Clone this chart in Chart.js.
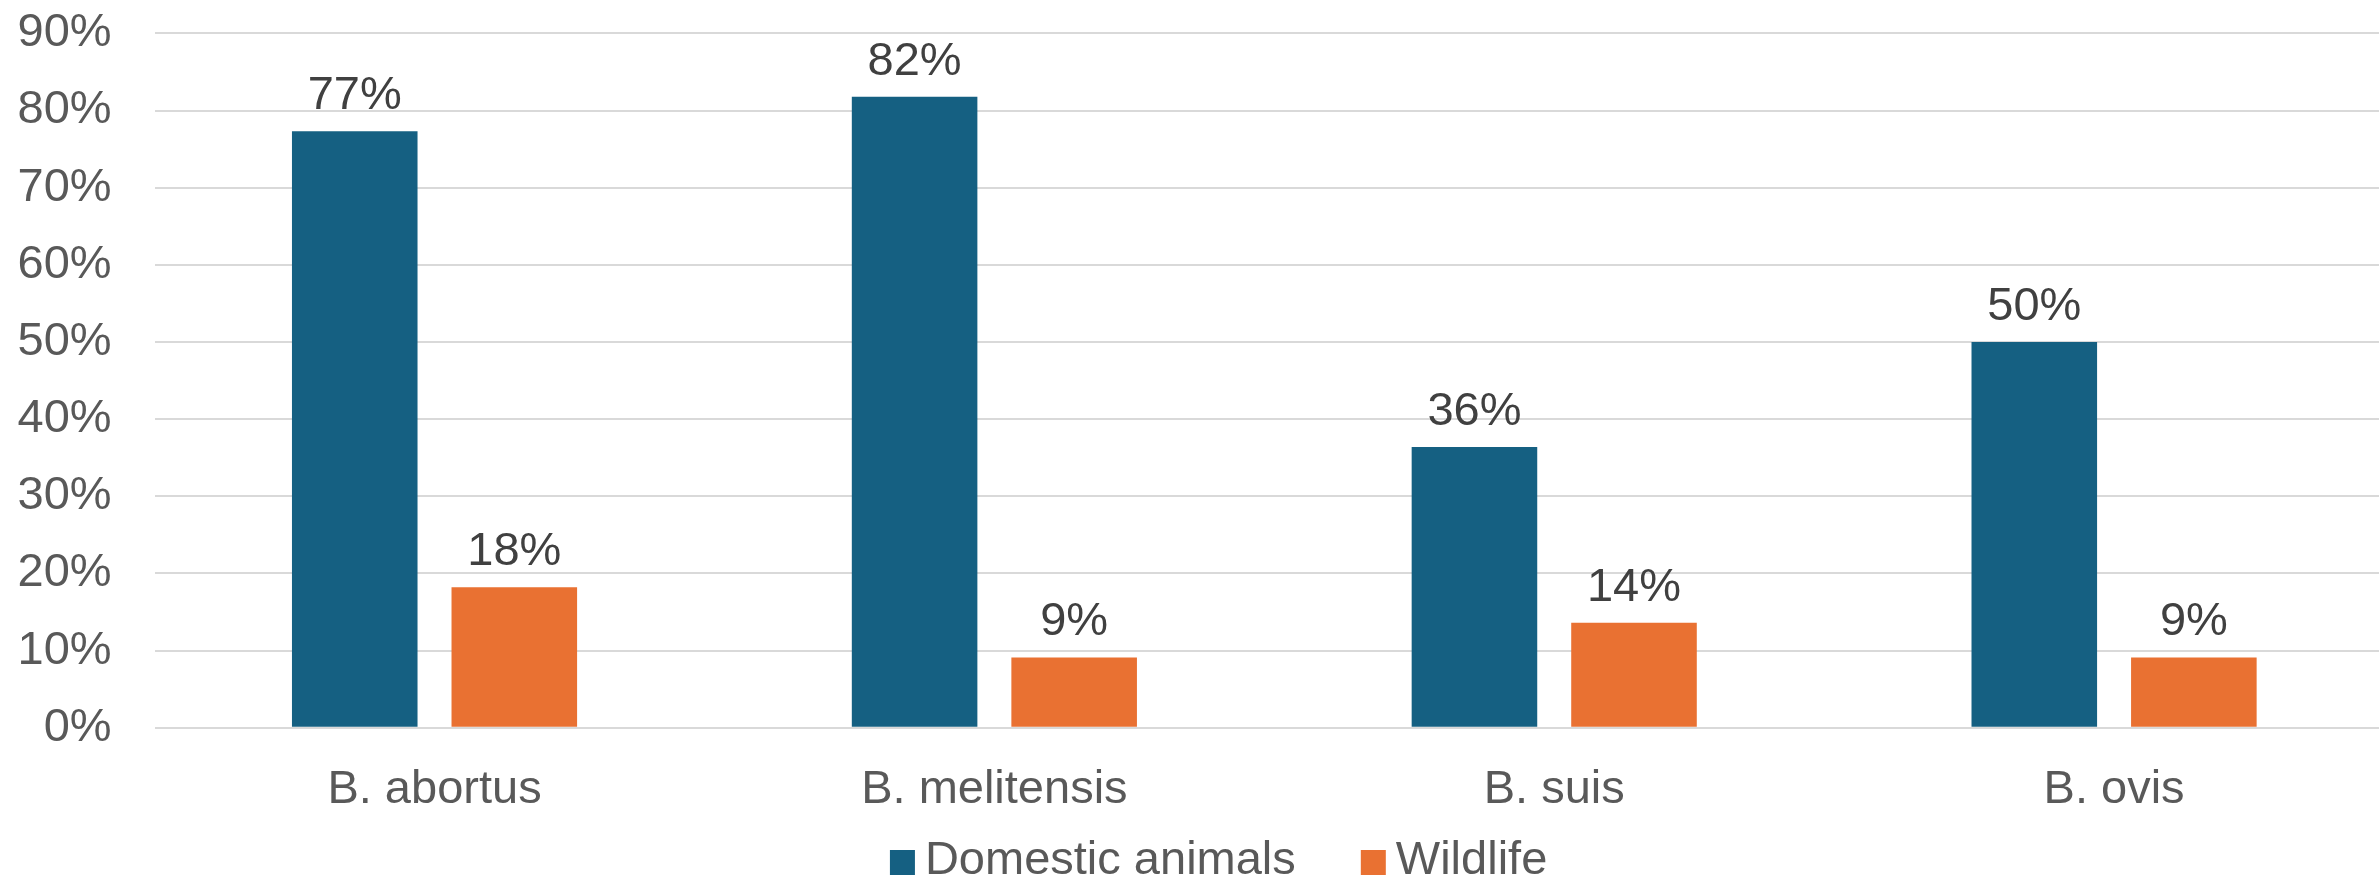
<!DOCTYPE html>
<html>
<head>
<meta charset="utf-8">
<title>Brucella species by host</title>
<script src="https://cdn.jsdelivr.net/npm/chart.js@4.4.1/dist/chart.umd.min.js"></script>
<style>
  html, body { margin: 0; padding: 0; background: #fff; overflow: hidden; }
  #wrap { position: relative; width: 2394px; height: 881px; }
</style>
</head>
<body>
<div id="wrap"><canvas id="brucellaChart"></canvas></div>
<script>
const species = ["B. abortus", "B. melitensis", "B. suis", "B. ovis"];
const domesticPct = [77.3, 81.8, 36.4, 50.0];
const wildlifePct = [18.2, 9.1, 13.6, 9.1];
const yTickValues = [0, 10, 20, 30, 40, 50, 60, 70, 80, 90];

const FONT = '"Liberation Sans", Arial, Helvetica, sans-serif';
const COLORS = {
  domestic: "#156082",
  wildlife: "#E97132",
  grid: "#D9D9D9",
  tick: "#595959",
  value: "#404040",
};

// percentage above every bar, centred on the bar
const barValueLabels = {
  id: "barValueLabels",
  afterDatasetsDraw(chart) {
    const { ctx } = chart;
    ctx.save();
    ctx.font = `47px ${FONT}`;
    ctx.fillStyle = COLORS.value;
    ctx.textAlign = "center";
    ctx.textBaseline = "alphabetic";
    chart.data.datasets.forEach((ds, i) => {
      chart.getDatasetMeta(i).data.forEach((bar, j) => {
        ctx.fillText(Math.round(ds.data[j]) + "%", bar.x, bar.y - 22);
      });
    });
    ctx.restore();
  },
};

// square swatch + label legend, sits under the category axis
const bottomLegend = {
  id: "bottomLegend",
  afterDraw(chart, args, opts) {
    const { ctx } = chart;
    ctx.save();
    ctx.font = `47px ${FONT}`;
    const items = chart.data.datasets.map((ds) => ({
      text: ds.label,
      color: ds.backgroundColor,
      w: ctx.measureText(ds.label).width,
    }));
    const total =
      items.reduce((s, it) => s + opts.box + opts.gap + it.w, 0) +
      opts.spacing * (items.length - 1);
    let x = opts.centerX - total / 2;
    ctx.textAlign = "left";
    ctx.textBaseline = "middle";
    items.forEach((it) => {
      ctx.fillStyle = it.color;
      ctx.fillRect(x, opts.y - opts.box / 2 + 1.5, opts.box, opts.box);
      x += opts.box + opts.gap;
      ctx.fillStyle = COLORS.tick;
      ctx.fillText(it.text, x, opts.y);
      x += it.w + opts.spacing;
    });
    ctx.restore();
  },
};

Chart.defaults.font.family = FONT;
Chart.defaults.font.size = 47;
Chart.defaults.color = COLORS.tick;

new Chart(document.getElementById("brucellaChart"), {
  type: "bar",
  data: {
    labels: species,
    datasets: [
      { label: "Domestic animals", data: domesticPct, backgroundColor: COLORS.domestic },
      { label: "Wildlife", data: wildlifePct, backgroundColor: COLORS.wildlife },
    ],
  },
  options: {
    responsive: true,
    maintainAspectRatio: false,
    devicePixelRatio: 1,
    animation: false,
    categoryPercentage: 0.57,
    barPercentage: 0.787,
    layout: { padding: { top: 33.4, left: 0, right: 0, bottom: 73.3 } },
    plugins: {
      legend: { display: false },
      tooltip: { enabled: false },
      bottomLegend: { centerX: 1218.6, y: 861, box: 25, gap: 10, spacing: 65 },
    },
    scales: {
      x: {
        grid: { display: false, drawTicks: false },
        border: { display: false },
        ticks: { padding: 34, color: COLORS.tick, font: { size: 47 } },
        afterFit: (scale) => { scale.height = 80; },
      },
      y: {
        min: 0,
        max: 90,
        afterBuildTicks: (scale) => { scale.ticks = yTickValues.map((v) => ({ value: v })); },
        // invisible tick marks keep the labels off the plot without padding the top
        grid: { color: COLORS.grid, lineWidth: 2, drawTicks: true, tickLength: 43, tickColor: "rgba(0,0,0,0)" },
        border: { display: false },
        ticks: { padding: 0, color: COLORS.tick, font: { size: 47 }, callback: (v) => v + "%" },
        afterFit: (scale) => { scale.width = 154.6; },
      },
    },
  },
  plugins: [barValueLabels, bottomLegend],
});
</script>
</body>
</html>
